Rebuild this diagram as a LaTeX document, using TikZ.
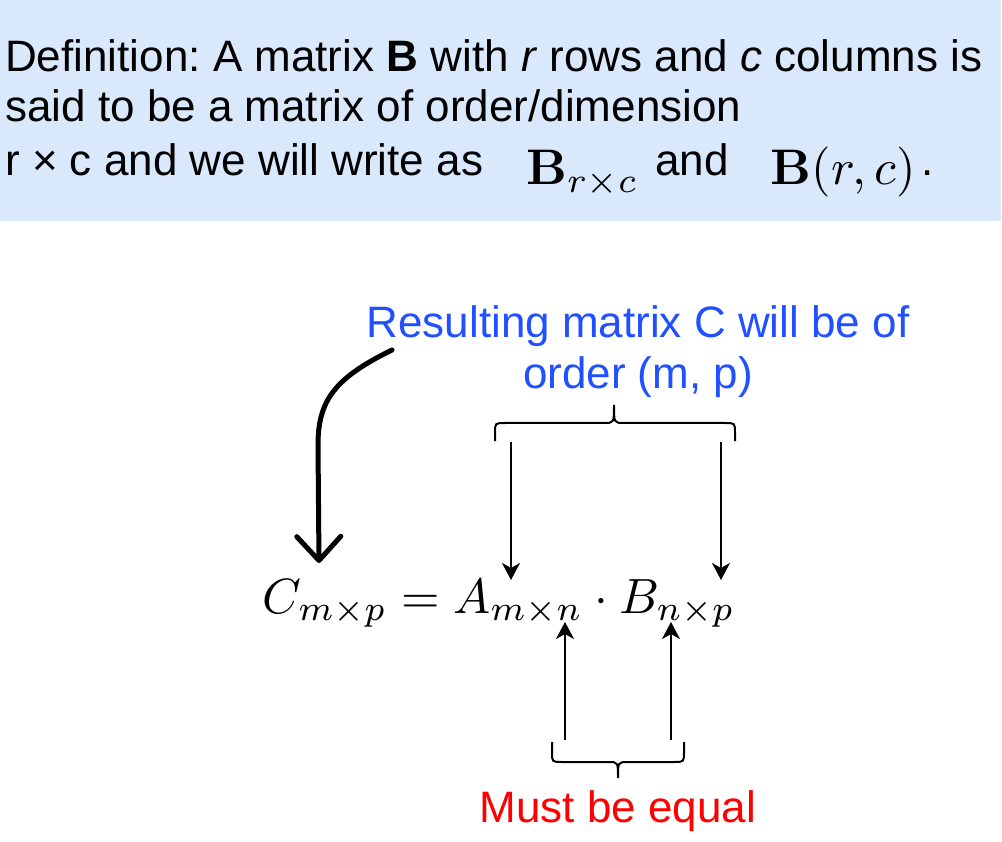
\documentclass[tikz,border=0pt]{standalone}
\usepackage[no-math]{fontspec}
\setmainfont{Liberation Sans}
\frenchspacing
\usetikzlibrary{arrows.meta}
\definecolor{defblue}{HTML}{DAE8FC}
\definecolor{noteblue}{HTML}{2050FF}
\definecolor{notered}{HTML}{FF0000}
\newcommand{\mathat}[2]{\scalebox{#1}{\fontsize{10}{12}\selectfont$#2$}}
\newcommand{\bigmath}[1]{\raisebox{-9pt}{\mathat{5.0}{#1}}}

\begin{document}
\begin{tikzpicture}[
  x=1pt, y=-1pt,
  deftext/.style={anchor=north west, inner sep=0pt, align=left,
                  font=\fontsize{44}{50}\selectfont},
  note/.style={inner sep=0pt, align=center, font=\fontsize{44}{51}\selectfont},
  eqtext/.style={anchor=base, inner sep=0pt},
  thinarrow/.style={-{Stealth[length=17pt, width=18pt, inset=5pt]}, line width=2pt},
  bigarrow/.style={-{Straight Barb[length=24pt, width=44pt, round]}, line width=5pt, line cap=round},
  bracket/.style={line width=2pt}
]
\useasboundingbox (0,0) rectangle (1002,842);
\fill[defblue] (0,0) rectangle (1001,221);

% definition
\node[deftext] (def) at (5,39.5) {Definition: A matrix \textbf{B} with \textit{r} rows and \textit{c} columns is\\
said to be a matrix of order/dimension\\[4pt]
r × c and we will write as\hspace{43pt}\bigmath{\mathbf{B}_{r\times c}}\hspace{17pt}and\hspace{42pt}\bigmath{\mathbf{B}(r,c)}\hspace{6pt}.};

% labels and equation
\node[note, text=noteblue, anchor=north] (result) at (638,305.5) {Resulting matrix C will be of\\order (m, p)};
\node[eqtext] (eq) at (499,613) {\mathat{4.95}{C_{m\times p} = A_{m\times n}\cdot B_{n\times p}}};
\node[note, text=notered, anchor=base] (equal) at (618,822) {Must be equal};

% braces
\draw[bracket] (495,441) -- (495,433) .. controls (495,423) .. (505,423) -- (604,423)
  .. controls (614,423) .. (614,405) .. controls (614,423) .. (624,423) -- (725,423)
  .. controls (735,423) .. (735,433) -- (735,441);
\draw[bracket] (552,742) -- (552,752) .. controls (552,762) .. (562,762) -- (608,762)
  .. controls (618,762) .. (618,778) .. controls (618,762) .. (628,762) -- (674,762)
  .. controls (684,762) .. (684,752) -- (684,742);

\coordinate (topL) at (511,442);
\coordinate (topR) at (721,442);
\coordinate (Atop) at (511,580);
\coordinate (Btop) at (721,580);
\coordinate (botL) at (565,740);
\coordinate (botR) at (671,740);
\coordinate (Asub) at (565,622);
\coordinate (Bsub) at (671,622);
\coordinate (curvestart) at (392,350);
\coordinate (Ctop) at (319,563);

% arrows
\draw[bigarrow] (curvestart) .. controls (335,378) and (318,400) .. (318,445) -- (Ctop);
\draw[thinarrow] (topL) -- (Atop);
\draw[thinarrow] (topR) -- (Btop);
\draw[thinarrow] (botL) -- (Asub);
\draw[thinarrow] (botR) -- (Bsub);
\end{tikzpicture}
\end{document}
